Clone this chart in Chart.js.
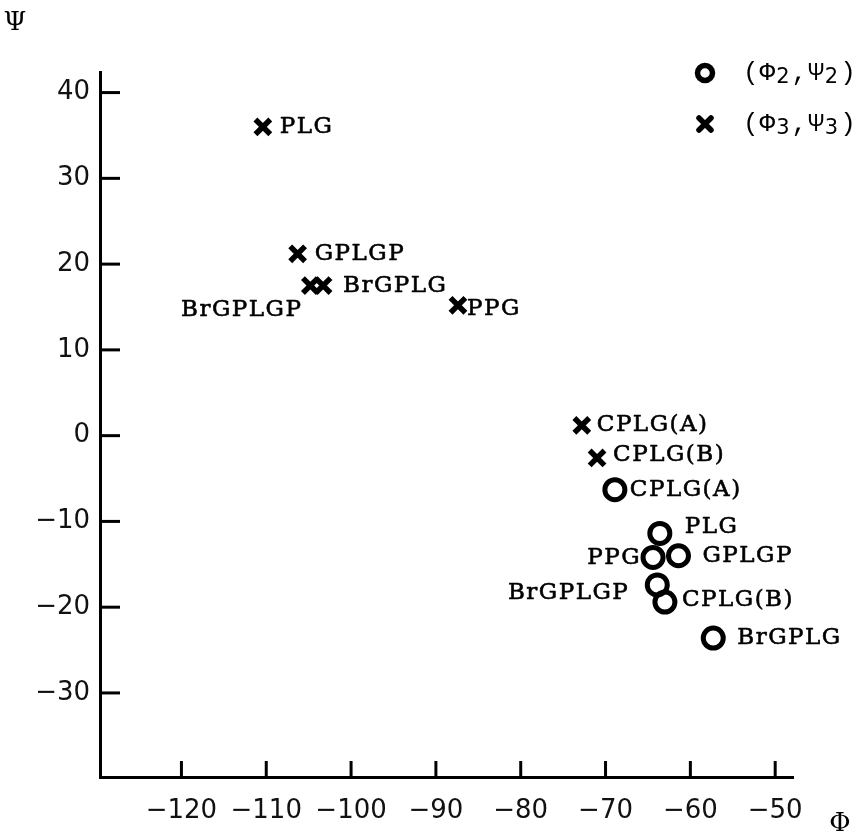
<!DOCTYPE html>
<html><head><meta charset="utf-8">
<script src="https://cdn.jsdelivr.net/npm/chart.js@4/dist/chart.umd.min.js"></script>
<style>html,body{margin:0;padding:0;background:#fff;}canvas{display:block;}</style>
</head><body>
<canvas id="c" width="862" height="834"></canvas>
<script>
// ---- data ----
const xTicks = [-120, -110, -100, -90, -80, -70, -60, -50];
const yTicks = [-30, -20, -10, 0, 10, 20, 30, 40];

// (Phi3, Psi3) — crosses
const names3 = ['PLG', 'GPLGP', 'BrGPLGP', 'BrGPLG', 'PPG', 'CPLG(A)', 'CPLG(B)'];
const phi3   = [-110.4, -106.3, -104.8, -103.3, -87.4, -72.8, -71.0];
const psi3   = [36.0, 21.2, 17.5, 17.5, 15.2, 1.2, -2.6];

// (Phi2, Psi2) — circles
const names2 = ['CPLG(A)', 'PLG', 'GPLGP', 'PPG', 'BrGPLGP', 'CPLG(B)', 'BrGPLG'];
const phi2   = [-68.9, -63.6, -61.4, -64.4, -63.9, -63.0, -57.3];
const psi2   = [-6.3, -11.4, -14.0, -14.2, -17.4, -19.4, -23.6];

const legendNames = ['(Φ2,Ψ2)', '(Φ3,Ψ3)'];

// ---- label placement (style, not data) ----
const place3 = [[17,0,'left'],[17,0,'left'],[-8,24,'right'],[20,0,'left'],[9,4,'left'],[15,0,'left'],[16,-3,'left']];
const place2 = [[15,0,'left'],[25,-6,'left'],[24,0,'left'],[-12,1,'right'],[-28,8,'right'],[17,-2,'left'],[24,0,'left']];

const toPts = (xs, ys) => xs.map((x, i) => ({x, y: ys[i]}));
const fmt = v => (v < 0 ? '\u2212' + Math.abs(v) : String(v));

const LABEL_FONT = '23px "DejaVu Serif", "Liberation Serif", serif';

const deco = {
  id: 'deco',
  afterDraw(chart) {
    const ctx = chart.ctx;
    const xs = chart.scales.x, ys = chart.scales.y;
    ctx.save();
    ctx.strokeStyle = '#000';
    ctx.lineWidth = 3;
    ctx.lineCap = 'butt';
    // inward tick marks
    xTicks.forEach(v => {
      const px = xs.getPixelForValue(v);
      ctx.beginPath(); ctx.moveTo(px, xs.top); ctx.lineTo(px, xs.top - 16); ctx.stroke();
    });
    yTicks.forEach(v => {
      const py = ys.getPixelForValue(v);
      ctx.beginPath(); ctx.moveTo(ys.right, py); ctx.lineTo(ys.right + 20, py); ctx.stroke();
    });
    // point labels
    ctx.fillStyle = '#000';
    ctx.font = LABEL_FONT;
    ctx.textBaseline = 'middle';
    ctx.lineWidth = 0.6;
    ctx.lineJoin = 'round';
    try { ctx.letterSpacing = '1.5px'; } catch (e) {}
    const drawLabels = (dsIndex, names, place) => {
      const meta = chart.getDatasetMeta(dsIndex);
      meta.data.forEach((el, i) => {
        const p = place[i];
        ctx.textAlign = p[2];
        ctx.fillText(names[i], el.x + p[0], el.y + p[1]);
        ctx.strokeText(names[i], el.x + p[0], el.y + p[1]);
      });
    };
    drawLabels(0, names2, place2);
    drawLabels(1, names3, place3);

    // legend
    try { ctx.letterSpacing = '0px'; } catch (e) {}
    const lx = 705, ly = [73, 124];
    ctx.lineWidth = 5.5;
    ctx.beginPath(); ctx.arc(lx, ly[0], 7.5, 0, Math.PI * 2); ctx.stroke();
    const r = 6;
    ctx.lineCap = 'round';
    ctx.beginPath();
    ctx.moveTo(lx - r, ly[1] - r); ctx.lineTo(lx + r, ly[1] + r);
    ctx.moveTo(lx + r, ly[1] - r); ctx.lineTo(lx - r, ly[1] + r);
    ctx.stroke();
    ctx.textAlign = 'left';
    legendNames.forEach((txt, k) => {
      let x = 743;
      for (const ch of txt) {
        if (/[0-9]/.test(ch)) {
          ctx.font = '21px "DejaVu Sans", sans-serif';
          ctx.fillText(ch, x, ly[k] + 5);
          x += ctx.measureText(ch).width + 2;
        } else {
          ctx.font = '26px "Liberation Mono", "DejaVu Sans Mono", monospace';
          ctx.fillText(ch, x, ly[k]);
          x += ctx.measureText(ch).width + 1;
        }
      }
    });
    // axis titles
    ctx.font = '26px "DejaVu Serif", serif';
    ctx.textAlign = 'center';
    ctx.fillText('Ψ', 15, 23);
    ctx.fillText('Φ', 840, 824);
    ctx.restore();
  }
};

new Chart(document.getElementById('c'), {
  type: 'scatter',
  data: {
    datasets: [
      {
        label: '(Φ2,Ψ2)',
        data: toPts(phi2, psi2),
        pointStyle: 'circle',
        pointRadius: 10,
        pointBorderWidth: 5,
        pointBorderColor: '#000',
        pointBackgroundColor: 'rgba(0,0,0,0)'
      },
      {
        label: '(Φ3,Ψ3)',
        data: toPts(phi3, psi3),
        pointStyle: 'crossRot',
        pointRadius: 10.5,
        pointBorderWidth: 5.5,
        pointBorderColor: '#000',
        pointBackgroundColor: '#000'
      }
    ]
  },
  options: {
    responsive: false,
    animation: false,
    events: [],
    layout: { padding: { left: 0, right: 69, top: 72, bottom: 0 } },
    plugins: { legend: { display: false }, tooltip: { enabled: false } },
    scales: {
      x: {
        type: 'linear',
        min: -129.6, max: -47.9,
        grid: { display: false, drawTicks: false },
        border: { display: true, color: '#000', width: 3 },
        afterBuildTicks: s => { s.ticks = xTicks.map(v => ({value: v})); },
        afterFit: s => { s.height = 57; },
        ticks: {
          color: '#111', padding: 19,
          font: { family: '"DejaVu Sans", sans-serif', size: 26 },
          callback: v => fmt(v),
          maxRotation: 0, autoSkip: false
        }
      },
      y: {
        type: 'linear',
        min: -39.8, max: 42.4,
        grid: { display: false, drawTicks: false },
        border: { display: true, color: '#000', width: 3 },
        afterBuildTicks: s => { s.ticks = yTicks.map(v => ({value: v})); },
        afterFit: s => { s.width = 100; },
        ticks: {
          color: '#111', padding: 10,
          font: { family: '"DejaVu Sans", sans-serif', size: 26 },
          callback: v => fmt(v),
          autoSkip: false
        }
      }
    }
  },
  plugins: [deco]
});
</script>
</body></html>
